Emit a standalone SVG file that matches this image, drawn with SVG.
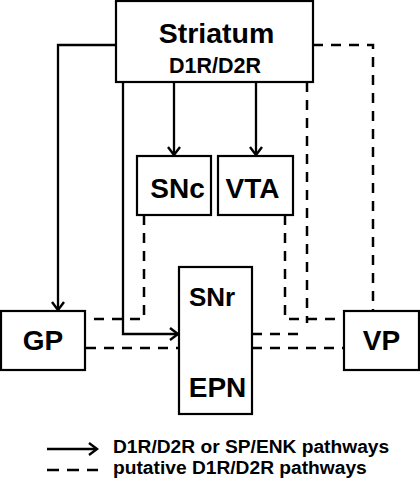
<svg xmlns="http://www.w3.org/2000/svg" width="420" height="481" viewBox="0 0 420 481">
<style>
.box{fill:#fff;stroke:#000;stroke-width:2.2}
.lbl{font-family:"Liberation Sans",Arial,sans-serif;font-weight:bold;fill:#000;text-anchor:middle}
.s{fill:none;stroke:#000;stroke-width:2.3}
.d{fill:none;stroke:#000;stroke-width:2.5;stroke-dasharray:10,8}
.leg{font-family:"Liberation Sans",Arial,sans-serif;font-weight:bold;font-size:19.2px;fill:#000}
</style>
<defs>
<marker id="arr" markerUnits="userSpaceOnUse" markerWidth="16" markerHeight="16" refX="11" refY="8" orient="auto">
<path d="M3,2 L11,8 L3,14" fill="none" stroke="#000" stroke-width="2.4"/>
</marker>
</defs>
<rect width="420" height="481" fill="#fff"/>
<g id="connectors">
<path class="s" d="M116,45 H58 V310" marker-end="url(#arr)"/>
<path class="s" d="M123,82 V334 H178" marker-end="url(#arr)"/>
<path class="s" d="M174,82 V155" marker-end="url(#arr)"/>
<path class="s" d="M256,82 V155" marker-end="url(#arr)"/>
<path class="d" d="M144,215 V319 H86"/>
<path class="d" d="M285,215 V319 H344"/>
<path class="d" d="M307,82 V323"/>
<path class="d" d="M252,334 H302"/>
<path class="d" d="M86,348 H179"/>
<path class="d" d="M252,348 H344"/>
<path class="d" d="M313,45 H373 V311"/>
</g>
<g id="striatum">
<rect class="box" x="116" y="1" width="197" height="81"/>
<text class="lbl" x="216.5" y="43" font-size="28.5">Striatum</text>
<text class="lbl" x="215" y="73" font-size="21.5">D1R/D2R</text>
</g>
<g id="snc">
<rect class="box" x="137" y="156" width="74" height="59"/>
<text class="lbl" x="177.5" y="198" font-size="28">SNc</text>
</g>
<g id="vta">
<rect class="box" x="218" y="156" width="75" height="59"/>
<text class="lbl" x="252.5" y="198" font-size="28">VTA</text>
</g>
<g id="gp">
<rect class="box" x="1" y="311" width="84" height="59"/>
<text class="lbl" x="43" y="350" font-size="28">GP</text>
</g>
<g id="snr-epn">
<rect class="box" x="179" y="267" width="73" height="147"/>
<text class="lbl" x="212" y="306" font-size="26">SNr</text>
<text class="lbl" x="217.5" y="397" font-size="28">EPN</text>
</g>
<g id="vp">
<rect class="box" x="344" y="311" width="75" height="59"/>
<text class="lbl" x="381.5" y="350" font-size="28">VP</text>
</g>
<g id="legend">
<path class="s" d="M47,449 H97" marker-end="url(#arr)"/>
<path class="s" d="M47,470 H98" stroke-width="2.6" stroke-dasharray="12,8"/>
<text class="leg" x="113" y="453">D1R/D2R or SP/ENK pathways</text>
<text class="leg" x="113" y="474">putative D1R/D2R pathways</text>
</g>
</svg>
